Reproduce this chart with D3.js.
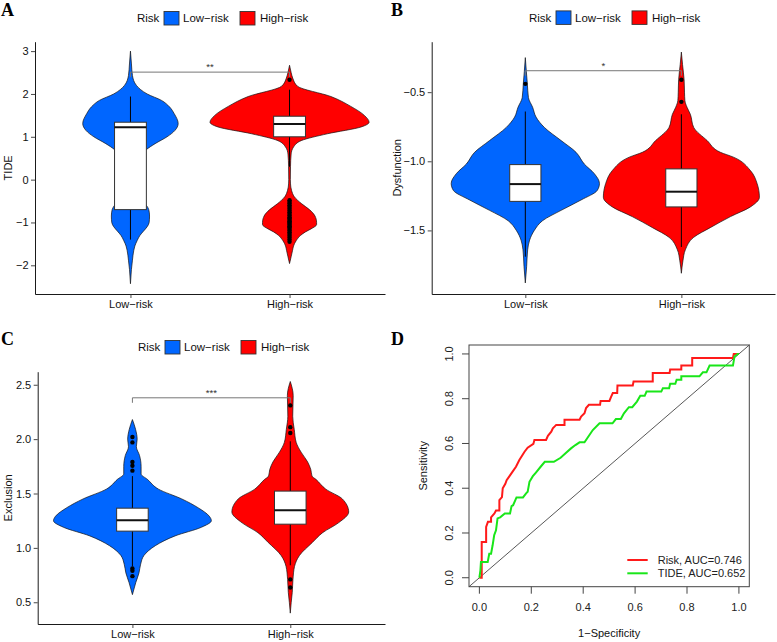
<!DOCTYPE html>
<html><head><meta charset="utf-8">
<script src="https://cdn.jsdelivr.net/npm/d3@7"></script>
<style>body{margin:0;background:#fff}text{font-family:"Liberation Sans",Arial,sans-serif}</style>
</head><body>
<svg id="c" width="777" height="642"></svg>
<script>
// ---------- shared ----------
const categories = ["Low−risk", "High−risk"];
const groupColors = ["#0066FF", "#FF0000"];
const legendTitle = "Risk";

// ---------- Panel A: TIDE ----------
const tideTicks = [-2, -1, 0, 1, 2, 3];
// [value, relative density (violin half-width, max = 1)]
const tideLowDensity = [[3.0,0],[2.7,0.0125],[2.43,0.025],[2.2,0.075],[2.0,0.21],[1.85,0.39],[1.7,0.49],[1.54,0.55],[1.31,0.60],[1.15,0.56],[1.0,0.46],[0.84,0.31],[0.7,0.2],[0.5,0.12],[0.3,0.09],[0,0.08],[-0.3,0.1],[-0.5,0.16],[-0.7,0.23],[-0.85,0.24],[-1.0,0.235],[-1.1,0.21],[-1.2,0.165],[-1.3,0.12],[-1.42,0.085],[-1.55,0.055],[-1.65,0.042],[-1.88,0.025],[-2.1,0.012],[-2.43,0]];
const tideHighDensity = [[2.67,0],[2.5,0.02],[2.37,0.04],[2.18,0.10],[1.94,0.52],[1.71,0.77],[1.5,0.94],[1.34,1.0],[1.23,0.90],[1.07,0.475],[0.91,0.146],[0.76,0.05],[0.6,0.02],[0.3,0.012],[0.0,0.01],[-0.1,0.012],[-0.25,0.025],[-0.4,0.06],[-0.56,0.15],[-0.7,0.25],[-0.85,0.32],[-1.0,0.34],[-1.05,0.34],[-1.15,0.27],[-1.22,0.2],[-1.3,0.14],[-1.42,0.085],[-1.55,0.05],[-1.65,0.038],[-1.8,0.02],[-1.96,0]];
// [lower whisker, Q1, median, Q3, upper whisker]
const tideLowBox = [-1.40, -0.70, 1.22, 1.34, 1.94];
const tideHighBox = [0.30, 1.00, 1.30, 1.48, 2.10];
const tideLowOutliers = [];
const tideHighOutliers = [2.33,-0.48,-0.52,-0.56,-0.6,-0.64,-0.68,-0.72,-0.76,-0.8,-0.84,-0.88,-0.91,-0.94,-0.97,-1.0,-1.03,-1.06,-1.09,-1.12,-1.15,-1.19,-1.23,-1.27,-1.31,-1.35,-1.4,-1.45];
const tideSignif = [2.51, "**"];

// ---------- Panel B: Dysfunction ----------
const dysTicks = [-1.5, -1.0, -0.5];
const dysLowDensity = [[-0.25,0],[-0.35,0.013],[-0.44,0.026],[-0.54,0.04],[-0.61,0.094],[-0.68,0.137],[-0.755,0.244],[-0.85,0.458],[-0.935,0.65],[-1.02,0.756],[-1.09,0.885],[-1.16,0.95],[-1.21,0.923],[-1.28,0.714],[-1.355,0.458],[-1.43,0.22],[-1.5,0.115],[-1.57,0.055],[-1.64,0.03],[-1.76,0.017],[-1.88,0]];
const dysHighDensity = [[-0.21,0],[-0.3,0.015],[-0.41,0.035],[-0.5,0.04],[-0.56,0.045],[-0.61,0.073],[-0.66,0.115],[-0.755,0.158],[-0.85,0.33],[-0.935,0.5],[-0.97,0.667],[-1.067,0.885],[-1.16,0.97],[-1.26,1.0],[-1.33,0.885],[-1.40,0.63],[-1.48,0.37],[-1.55,0.158],[-1.64,0.051],[-1.72,0.02],[-1.81,0]];
const dysLowBox = [-1.69, -1.29, -1.165, -1.024, -0.64];
const dysHighBox = [-1.62, -1.33, -1.22, -1.055, -0.66];
const dysLowOutliers = [-0.44];
const dysHighOutliers = [-0.41, -0.57];
const dysSignif = [-0.345, "*"];

// ---------- Panel C: Exclusion ----------
const excTicks = [0.5, 1.0, 1.5, 2.0, 2.5];
const excLowDensity = [[2.18,0],[2.09,0.04],[2.0,0.06],[1.93,0.05],[1.85,0.09],[1.75,0.11],[1.68,0.11],[1.63,0.19],[1.54,0.33],[1.45,0.625],[1.37,0.83],[1.29,0.975],[1.25,1.0],[1.19,0.875],[1.11,0.54],[1.02,0.29],[0.93,0.146],[0.85,0.104],[0.77,0.083],[0.68,0.042],[0.57,0]];
const excHighDensity = [[2.53,0],[2.40,0.037],[2.21,0.031],[2.09,0.05],[1.97,0.075],[1.88,0.137],[1.79,0.22],[1.72,0.26],[1.66,0.275],[1.63,0.325],[1.54,0.45],[1.45,0.66],[1.33,0.74],[1.23,0.61],[1.14,0.41],[1.05,0.28],[0.93,0.116],[0.83,0.054],[0.71,0.034],[0.59,0.025],[0.50,0.012],[0.40,0]];
const excLowBox = [0.83, 1.154, 1.255, 1.365, 1.66];
const excHighBox = [0.84, 1.218, 1.347, 1.522, 1.98];
const excLowOutliers = [2.02, 1.97, 1.79, 1.755, 1.71, 0.81, 0.79, 0.74];
const excHighOutliers = [2.31, 2.11, 2.056, 0.71, 0.635];
const excSignif = [2.38, "***"];

// ---------- Panel D: ROC ----------
const rocTicks = [0, 0.2, 0.4, 0.6, 0.8, 1.0];
const riskFpr = [0,0.009,0.009,0.026,0.026,0.033,0.045,0.045,0.058,0.064,0.077,0.077,0.087,0.09,0.1,0.105,0.116,0.128,0.141,0.154,0.174,0.186,0.208,0.212,0.257,0.264,0.277,0.283,0.296,0.328,0.328,0.386,0.392,0.405,0.411,0.422,0.465,0.467,0.501,0.507,0.514,0.531,0.532,0.591,0.594,0.668,0.668,0.733,0.735,0.778,0.778,0.820,0.820,0.977,0.98,1.0];
const riskTpr = [0,0,0.16,0.16,0.227,0.25,0.25,0.27,0.287,0.30,0.30,0.347,0.36,0.40,0.42,0.436,0.454,0.474,0.496,0.526,0.563,0.581,0.598,0.616,0.616,0.634,0.653,0.668,0.683,0.683,0.706,0.706,0.72,0.735,0.758,0.773,0.773,0.79,0.79,0.807,0.825,0.825,0.859,0.859,0.877,0.877,0.915,0.915,0.930,0.930,0.948,0.948,0.982,0.982,1.0,1.0];
const tideFpr = [0,0.004,0.006,0.032,0.038,0.045,0.051,0.057,0.064,0.07,0.08,0.098,0.118,0.124,0.13,0.143,0.168,0.18,0.186,0.193,0.206,0.217,0.236,0.252,0.287,0.313,0.332,0.353,0.37,0.386,0.405,0.437,0.463,0.513,0.526,0.545,0.557,0.576,0.589,0.607,0.62,0.637,0.644,0.701,0.707,0.731,0.735,0.755,0.76,0.778,0.778,0.848,0.861,0.875,0.887,0.977,0.983,0.996,1.0];
const tideTpr = [0,0.033,0.07,0.07,0.107,0.107,0.145,0.19,0.212,0.265,0.27,0.287,0.287,0.32,0.324,0.359,0.359,0.377,0.384,0.429,0.454,0.469,0.496,0.518,0.518,0.536,0.556,0.578,0.593,0.605,0.605,0.66,0.690,0.690,0.709,0.709,0.735,0.762,0.762,0.787,0.813,0.813,0.832,0.832,0.847,0.847,0.867,0.867,0.885,0.885,0.900,0.900,0.918,0.918,0.948,0.948,0.989,1.0,1.0];
const rocLegend = ["Risk, AUC=0.746", "TIDE, AUC=0.652"];
const rocColors = ["#FF1A1A", "#19E619"];

// ================= drawing =================
const svg = d3.select("#c");
svg.append("rect").attr("width",777).attr("height",642).attr("fill","#fff");
const FS = "11px";

function panelLabel(t, x, y){
  svg.append("text").text(t).attr("x",x).attr("y",y)
    .style("font-family","'Liberation Serif','Times New Roman',serif")
    .style("font-weight","bold").style("font-size","18px").attr("fill","#000");
}

function violinPanel(c){
  const g = svg.append("g");
  const x = d3.scaleLinear().domain([0.4, 2.6]).range([c.left, c.right]);
  const y = d3.scaleLinear().domain(c.yDomain).range([c.bottom, c.top]);
  const halfUnit = x(1.5) - x(1);
  const w = d3.scaleLinear().domain([0,1]).range([0, halfUnit]);

  // legend
  const lg = g.append("g").attr("transform",`translate(${c.legendX},${c.legendY})`);
  lg.append("text").text(legendTitle).attr("x",0).attr("y",4).style("font-size","11.5px").attr("fill","#111");
  const itemX = [[27,46],[103,123]];
  categories.forEach((cat,i)=>{
    lg.append("rect").attr("x",itemX[i][0]).attr("y",-6.8).attr("width",15).attr("height",13.5)
      .attr("fill",groupColors[i]).attr("stroke","#333").attr("stroke-width",0.9);
    lg.append("text").text(cat).attr("x",itemX[i][1]).attr("y",4).style("font-size","11.5px").attr("fill","#111");
  });

  // axes
  const ya = g.append("g").attr("transform",`translate(${c.left},0)`)
    .call(d3.axisLeft(y).tickValues(c.ticks).tickFormat(d3.format(c.fmt)).tickSize(4).tickPadding(2.5).tickSizeOuter(0));
  const xa = g.append("g").attr("transform",`translate(0,${c.bottom})`)
    .call(d3.axisBottom(x).tickValues([1,2]).tickFormat(d=>categories[d-1]).tickSize(4).tickPadding(2.5).tickSizeOuter(0));
  [ya,xa].forEach(a=>{
    a.selectAll("text").style("font-size",FS).style("font-family","'Liberation Sans',Arial,sans-serif").attr("fill","#111");
    a.select(".domain").attr("stroke","#000").attr("stroke-width",0.9);
    a.selectAll(".tick line").attr("stroke","#333").attr("stroke-width",0.9);
  });
  g.append("text").text(c.title)
    .attr("transform",`translate(${c.titleX},${(c.top+c.bottom)/2}) rotate(-90)`)
    .attr("text-anchor","middle").attr("dy","0.35em").style("font-size",FS).attr("fill","#111");

  // violins
  const area = d3.area().curve(d3.curveMonotoneY);
  c.densities.forEach((dens,i)=>{
    const cx = x(i+1);
    area.y(d=>y(d[0])).x0(d=>cx - w(d[1])).x1(d=>cx + w(d[1]));
    g.append("path").attr("d",area(dens)).attr("fill",groupColors[i])
      .attr("stroke","#111").attr("stroke-width",0.7);
  });

  // boxplots
  c.boxes.forEach((b,i)=>{
    const cx = x(i+1), x0 = x(i+1-0.1), x1 = x(i+1+0.1);
    g.append("line").attr("x1",cx).attr("x2",cx).attr("y1",y(b[0])).attr("y2",y(b[1])).attr("stroke","#000").attr("stroke-width",1);
    g.append("line").attr("x1",cx).attr("x2",cx).attr("y1",y(b[3])).attr("y2",y(b[4])).attr("stroke","#000").attr("stroke-width",1);
    g.append("rect").attr("x",x0).attr("width",x1-x0).attr("y",y(b[3])).attr("height",y(b[1])-y(b[3]))
      .attr("fill","#fff").attr("stroke","#333").attr("stroke-width",1);
    g.append("line").attr("x1",x0).attr("x2",x1).attr("y1",y(b[2])).attr("y2",y(b[2])).attr("stroke","#111").attr("stroke-width",2);
    c.outliers[i].forEach(o=>{
      g.append("circle").attr("cx",cx).attr("cy",y(o)).attr("r",2.2).attr("fill","#000");
    });
  });

  // significance bracket
  const sy = y(c.signif[0]);
  g.append("path").attr("d",`M${x(1)},${sy+5}V${sy}H${x(2)}V${sy+5}`)
    .attr("fill","none").attr("stroke","#777").attr("stroke-width",1);
  g.append("text").text(c.signif[1]).attr("x",(x(1)+x(2))/2).attr("y",sy-2)
    .attr("text-anchor","middle").style("font-size","9.5px").attr("fill","#333");
}

violinPanel({left:35,right:385,top:41.7,bottom:294,yDomain:[-2.67,3.22],ticks:tideTicks,fmt:"d",
  title:"TIDE",titleX:8.5,legendX:137,legendY:18.3,
  densities:[tideLowDensity,tideHighDensity],boxes:[tideLowBox,tideHighBox],
  outliers:[tideLowOutliers,tideHighOutliers],signif:tideSignif});
violinPanel({left:431.7,right:775,top:41.7,bottom:294,yDomain:[-1.96,-0.135],ticks:dysTicks,fmt:".1f",
  title:"Dysfunction",titleX:397,legendX:529,legendY:17.7,
  densities:[dysLowDensity,dysHighDensity],boxes:[dysLowBox,dysHighBox],
  outliers:[dysLowOutliers,dysHighOutliers],signif:dysSignif});
violinPanel({left:37.7,right:385,top:371.7,bottom:624,yDomain:[0.30,2.62],ticks:excTicks,fmt:".1f",
  title:"Exclusion",titleX:8.5,legendX:138,legendY:347.3,
  densities:[excLowDensity,excHighDensity],boxes:[excLowBox,excHighBox],
  outliers:[excLowOutliers,excHighOutliers],signif:excSignif});

// ---------- Panel D ----------
(function(){
  const g = svg.append("g");
  const L=469, R=749.3, T=345, B=586.7;
  const x = d3.scaleLinear().domain([-0.04,1.04]).range([L,R]);
  const y = d3.scaleLinear().domain([-0.04,1.04]).range([B,T]);
  g.append("line").attr("x1",x(-0.04)).attr("y1",y(-0.04)).attr("x2",x(1.04)).attr("y2",y(1.04))
    .attr("stroke","#444").attr("stroke-width",0.9);
  const line = d3.line().x(d=>x(d[0])).y(d=>y(d[1]));
  const series = [[riskFpr,riskTpr],[tideFpr,tideTpr]];
  series.forEach((s,i)=>{
    const pts = s[0].map((f,k)=>[f, s[1][k]]);
    g.append("path").attr("d",line(pts)).attr("fill","none").attr("stroke",rocColors[i]).attr("stroke-width",2);
  });
  g.append("rect").attr("x",L).attr("y",T).attr("width",R-L).attr("height",B-T)
    .attr("fill","none").attr("stroke","#444").attr("stroke-width",1);
  rocTicks.forEach(t=>{
    g.append("line").attr("x1",x(t)).attr("x2",x(t)).attr("y1",B).attr("y2",B+7).attr("stroke","#444");
    g.append("text").text(d3.format(".1f")(t)).attr("x",x(t)).attr("y",B+24).attr("text-anchor","middle")
      .style("font-size","11px").attr("fill","#222");
    g.append("line").attr("x1",L).attr("x2",L-7).attr("y1",y(t)).attr("y2",y(t)).attr("stroke","#444");
    g.append("text").text(d3.format(".1f")(t))
      .attr("transform",`translate(${L-19.7},${y(t)}) rotate(-90)`)
      .attr("text-anchor","middle").attr("dy","0.35em").style("font-size","11px").attr("fill","#222");
  });
  g.append("text").text("1−Specificity").attr("x",(L+R)/2).attr("y",637).attr("text-anchor","middle").style("font-size","11px").attr("fill","#111");
  g.append("text").text("Sensitivity").attr("transform",`translate(423,${(T+B)/2}) rotate(-90)`)
    .attr("text-anchor","middle").attr("dy","0.35em").style("font-size","11px").attr("fill","#111");
  rocLegend.forEach((t,i)=>{
    const ly = 560 + i*13.3;
    g.append("line").attr("x1",627.3).attr("x2",647.7).attr("y1",ly).attr("y2",ly).attr("stroke",rocColors[i]).attr("stroke-width",2);
    g.append("text").text(t).attr("x",657.7).attr("y",ly).attr("dy","0.35em").style("font-size","11px").attr("fill","#222");
  });
})();

panelLabel("A", 1, 15.5);
panelLabel("B", 391, 15.5);
panelLabel("C", 1, 345);
panelLabel("D", 391, 345);
</script>
</body></html>
